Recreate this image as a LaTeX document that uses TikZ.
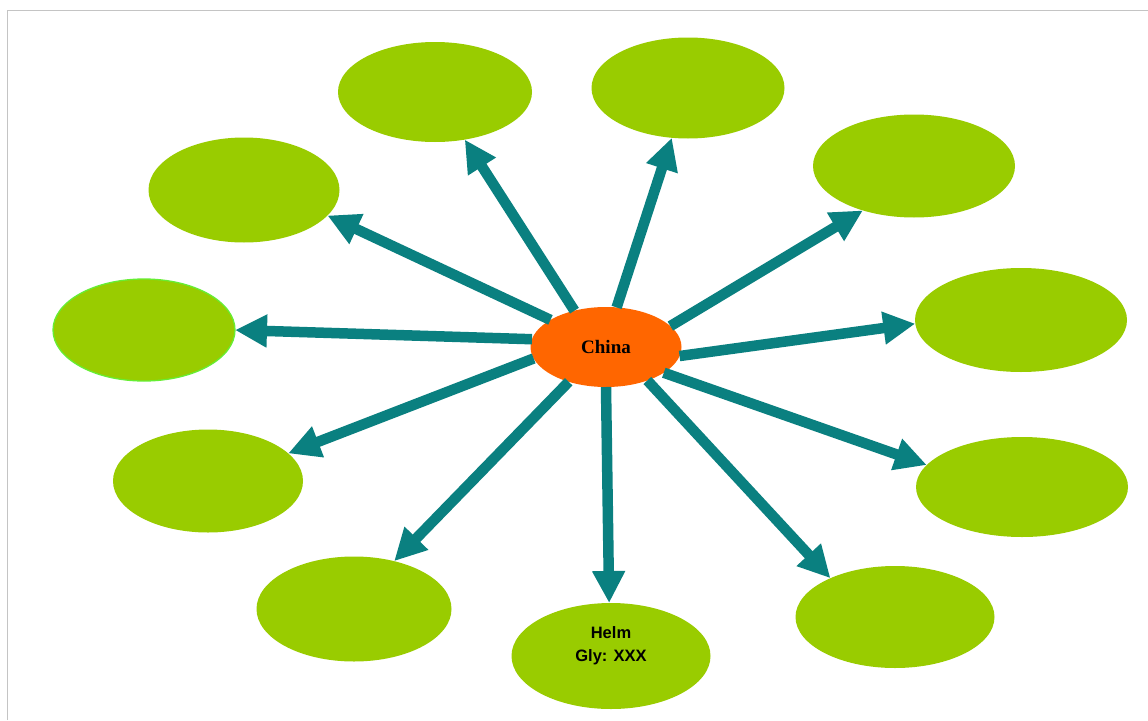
\documentclass[tikz,border=0pt]{standalone}
\usepackage{fontspec}
\setmainfont{Liberation Serif}
\newfontfamily\arialfont{Liberation Sans}
\usetikzlibrary{shapes.geometric,arrows.meta}
\definecolor{leaf}{HTML}{99CC00}
\definecolor{hub}{HTML}{FF6600}
\definecolor{tealarrow}{HTML}{0A8080}
\definecolor{brightrim}{HTML}{66EE33}
\definecolor{framegray}{HTML}{C4C4C4}
\begin{document}
\begin{tikzpicture}[x=1pt,y=-1pt,
  leafnode/.style={ellipse,fill=leaf,draw=none,inner sep=0pt,outer sep=0pt},
  hubnode/.style={ellipse,fill=hub,draw=none,inner sep=0pt,outer sep=0pt,
    minimum width=151pt,minimum height=80pt,font=\fontsize{19}{22}\selectfont\bfseries},
  spoke/.style={draw=tealarrow,line width=10.5pt,-{Triangle[length=32pt,width=31pt]}}]
\useasboundingbox (0,0) rectangle (1148,720);
\fill[white] (0,0) rectangle (1148,720);
\draw[framegray,line width=1.5pt] (7.5,720) -- (7.5,10.5) -- (1148,10.5);

\node[hubnode] (china) at (606,347) {\raisebox{-2pt}{China}};

\node[leafnode,minimum width=194pt,minimum height=100pt] (n1) at (435,92) {};
\node[leafnode,minimum width=193pt,minimum height=101pt] (n2) at (688,88) {};
\node[leafnode,minimum width=202pt,minimum height=103pt] (n3) at (914,166) {};
\node[leafnode,minimum width=212pt,minimum height=104pt] (n4) at (1021,320) {};
\node[leafnode,minimum width=212pt,minimum height=100pt] (n5) at (1022,487) {};
\node[leafnode,minimum width=199pt,minimum height=102pt] (n6) at (895,617) {};
\node[leafnode,minimum width=199pt,minimum height=106pt,align=center,
  font=\arialfont\fontsize{16.5}{23}\selectfont\bfseries] (n7) at (611,656)
  {Helm\\Gly: XXX\\[1pt]\mbox{}};
\node[leafnode,minimum width=195pt,minimum height=105pt] (n8) at (354,609) {};
\node[leafnode,minimum width=190pt,minimum height=103pt] (n9) at (208,481) {};
\node[leafnode,draw=brightrim,line width=1.3pt,minimum width=182pt,minimum height=102pt] (n10) at (144,330) {};
\node[leafnode,minimum width=191pt,minimum height=105pt] (n11) at (244,190) {};

\draw[spoke] (china.131.7) -- (n1.-58);
\draw[spoke] (china.75.3) -- (n2.-108.1);
\draw[spoke] (china.18.4) -- (n3.-139.6);
\draw[spoke] (china.-7.4) -- (n4.182.2);
\draw[spoke] (china.-24.4) -- (n5.167.5);
\draw[spoke] (china.-39.6) -- (n6.149);
\draw[spoke] (china.-90) -- (n7.92);
\draw[spoke] (china.-137.2) -- (n8.50.3);
\draw[spoke] (china.189.7) -- (n9.19.5);
\draw[spoke] (china.174.7) -- (n10.0);
\draw[spoke] (china.154.3) -- (n11.-17.2);
\end{tikzpicture}
\end{document}
